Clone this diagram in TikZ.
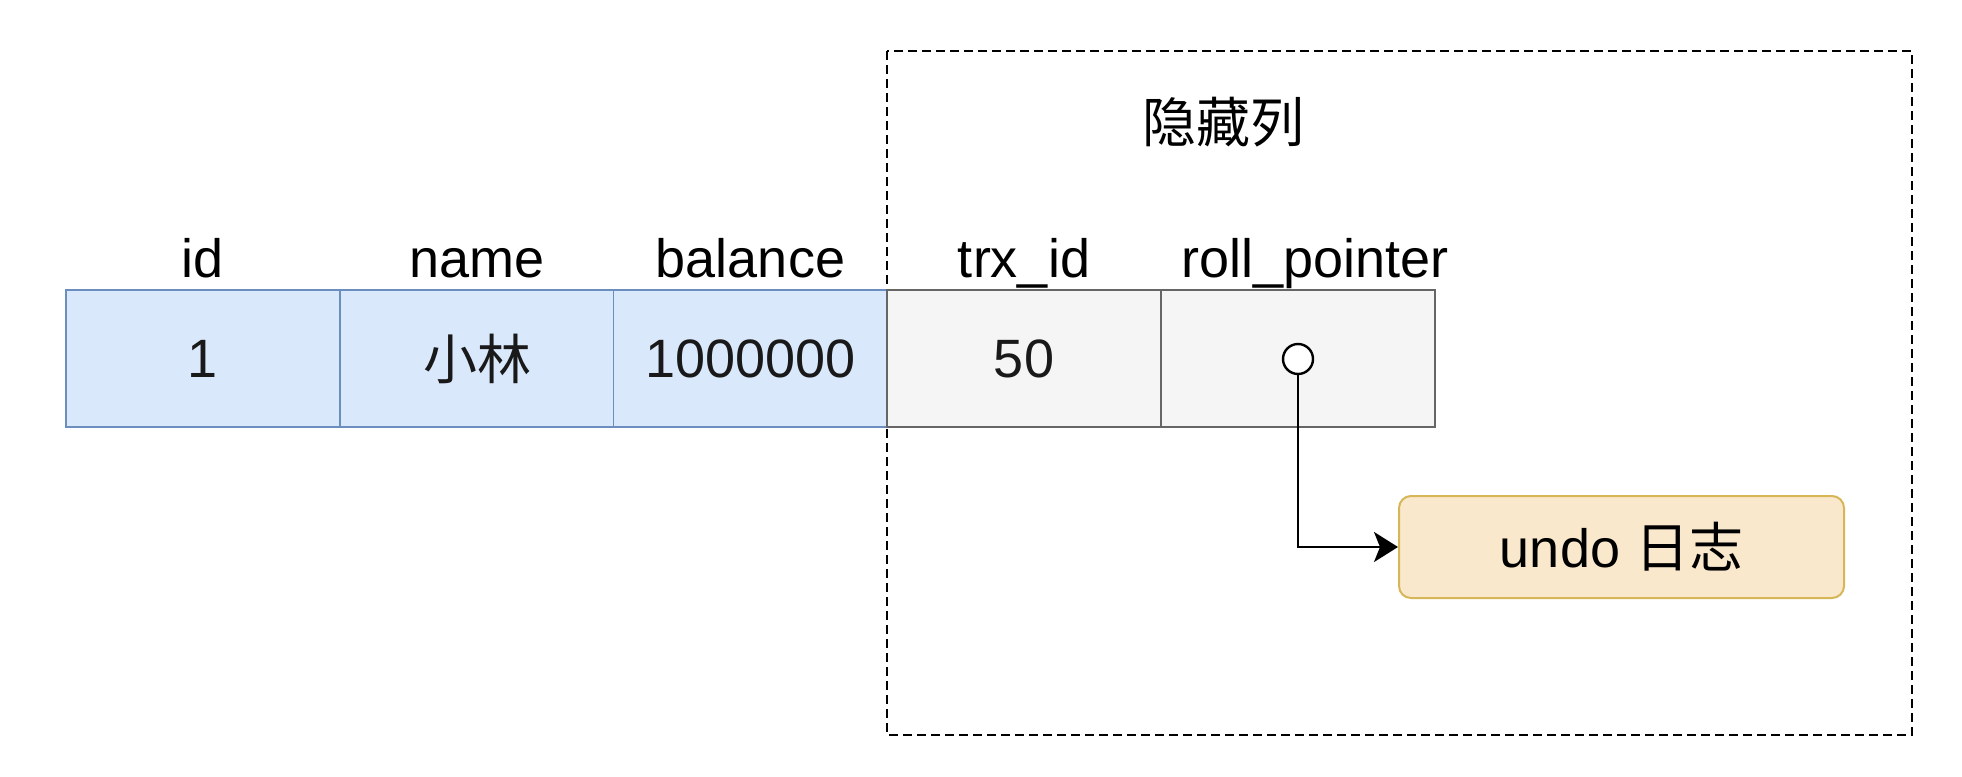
\documentclass[tikz,border=0pt]{standalone}
\usepackage{fontspec}
\setmainfont{Liberation Sans}
\newfontfamily\cjk{Noto Sans CJK SC}
\usetikzlibrary{arrows.meta,positioning}
\definecolor{bluefill}{RGB}{218,232,252}
\definecolor{bluedraw}{RGB}{108,142,191}
\definecolor{grayfill}{RGB}{245,245,245}
\definecolor{graydraw}{RGB}{102,102,102}
\definecolor{undofill}{RGB}{250,232,205}
\definecolor{undodraw}{RGB}{214,182,86}
\definecolor{txt}{RGB}{25,25,25}
\tikzset{
  cellbase/.style={minimum width=137pt,minimum height=68.5pt,inner sep=0pt,line width=0.8pt,font=\fontsize{27}{30}\selectfont,text=txt},
  bluecell/.style={cellbase,fill=bluefill,draw=bluedraw},
  graycell/.style={cellbase,fill=grayfill,draw=graydraw},
  header/.style={inner sep=0pt,text height=19pt,text depth=6pt,font=\fontsize{27}{30}\selectfont,text=black},
  undobox/.style={rounded corners=6pt,fill=undofill,draw=undodraw,line width=1pt,minimum width=222.5pt,minimum height=51pt,inner sep=0pt,font=\fontsize{27}{30}\selectfont,text=black},
  hidden/.style={draw=black,line width=1.2pt,dash pattern=on 4.5pt off 2.5pt},
  ptr/.style={circle,draw=black,fill=white,line width=1.2pt,minimum size=15pt,inner sep=0pt},
  link/.style={draw=black,line width=1.2pt,-{Stealth[length=12pt,width=15pt,inset=3pt]}}
}
\begin{document}
\begin{tikzpicture}[x=0.5pt,y=-0.5pt]
\useasboundingbox[fill=white] (0,0) rectangle (1962,776);
% hidden-column dashed frame
\draw[hidden] (887,51) rectangle (1912,735);
\node[header] (hid) at (1223,129) {\cjk 隐藏列};
% cells
\node[bluecell] (c1) at (203,358.5) {1};
\node[bluecell] (c2) at (477,358.5) {\cjk 小林};
\node[bluecell] (c3) at (750.5,358.5) {1000000};
\node[graycell] (c4) at (1024,358.5) {50};
\node[graycell] (c5) at (1298,358.5) {};
% headers
\node[header] (h1) at (203,264) {id};
\node[header] (h2) at (477,264) {name};
\node[header] (h3) at (750.5,264) {balance};
\node[header] (h4) at (1024,264) {trx\_id};
\node[header] (h5) at (1315,264) {roll\_pointer};
% pointer and undo log
\node[ptr] (p) at (1298,359) {};
\node[undobox] (undo) at (1621.5,547) {undo {\cjk 日志}};
\draw[link] (p.south) |- (undo.west);
\end{tikzpicture}
\end{document}
